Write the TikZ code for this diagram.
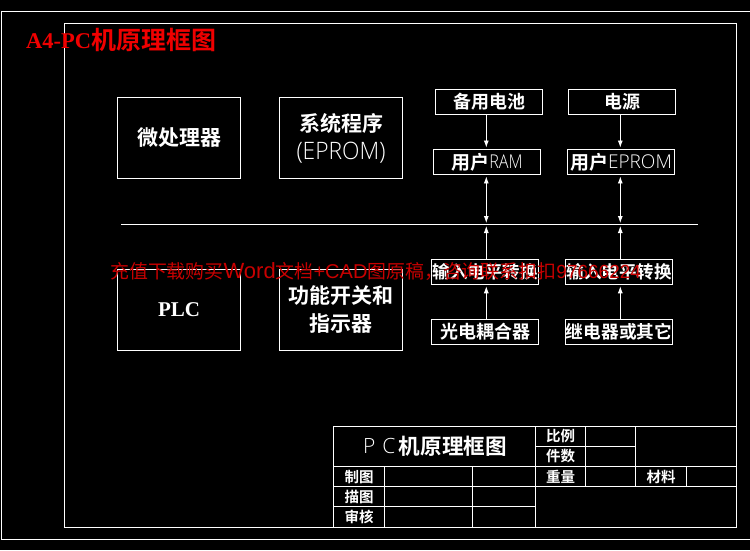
\documentclass[tikz,border=0pt]{standalone}
\usepackage{fontspec}
\usetikzlibrary{arrows.meta}
\setmainfont{Liberation Sans}
\newfontfamily\cjb{Noto Sans CJK SC}[BoldFont={* Bold}]
\newfontfamily\lthin{Open Sans Light}
\newfontfamily\ser{Liberation Serif}
\newcommand{\cn}[1]{\raisebox{-0.8pt}{\cjb\bfseries #1}}
\newcommand{\thn}[2]{\scalebox{#2}[1]{\lthin #1}}
\definecolor{wm}{RGB}{200,0,0}
\definecolor{tr}{RGB}{240,0,0}
\tikzset{
 frame/.style={draw=white,line width=0.9pt},
 bigbox/.style={frame,minimum width=123pt,minimum height=81pt,inner sep=0pt,align=center,text=white},
 smallbox/.style={frame,minimum width=107.5pt,minimum height=25pt,inner sep=0pt,align=center,text=white},
 cell/.style={text=white,inner sep=0pt,font=\fontsize{14.5}{15}\selectfont},
 conn/.style={draw=white,line width=0.8pt},
 tipa/.tip={Latex[length=7pt,width=5pt]},
 head/.style={-tipa,shorten >=1.5pt},
 bothhead/.style={tipa-tipa,shorten >=1.5pt,shorten <=1.5pt},
 bus/.style={draw=white,line width=0.8pt}
}
\begin{document}
\begin{tikzpicture}[x=1pt,y=-1pt]
\useasboundingbox (0,0) rectangle (750,550);
\fill[black] (0,0) rectangle (750,550);
% frames
\draw[frame] (750,11.5) -- (1.5,11.5) -- (1.5,539.5) -- (750,539.5);
\draw[frame] (64.5,23.5) rectangle (736.7,527);
% coordinates
\coordinate (cl) at (486.3,224.5);
\coordinate (cr) at (620.3,224.5);
\coordinate (busL) at (121,224.5);
\coordinate (busR) at (698,224.5);
% large boxes
\node[bigbox,font=\fontsize{21}{28}\selectfont] (mpu) at (179,138) {\cn{微处理器}};
\node[bigbox,font=\fontsize{21}{28}\selectfont] (sys) at (341,138) {\cn{系统程序}\\[1pt]{\fontsize{24}{28}\selectfont\thn{(EPROM)}{.95}}};
\node[bigbox,font=\fontsize{21}{28}\selectfont] (plc) at (179,309.5) {{\ser\bfseries\fontsize{21}{28}\selectfont PLC}};
\node[bigbox,font=\fontsize{21}{28}\selectfont] (fun) at (341,309.5) {\cn{功能开关和}\\\cn{指示器}};
% small boxes
\node[smallbox,font=\fontsize{18}{20}\selectfont] (bat) at (489,101.8) {\cn{备用电池}};
\node[smallbox,font=\fontsize{18}{20}\selectfont] (pwr) at (622,101.8) {\cn{电源}};
\node[smallbox,font=\fontsize{19}{20}\selectfont] (ram) at (487,162) {\cn{用户}{\fontsize{19}{20}\selectfont\thn{RAM}{.85}}};
\node[smallbox,font=\fontsize{19}{20}\selectfont] (epr) at (621,162) {\cn{用户}{\fontsize{19}{20}\selectfont\thn{EPROM}{1.0}}};
\node[smallbox,font=\fontsize{17.5}{20}\selectfont] (inl) at (485,271.8) {\cn{输入电平转换}};
\node[smallbox,font=\fontsize{17.5}{20}\selectfont] (inr) at (619,271.8) {\cn{输入电平转换}};
\node[smallbox,font=\fontsize{18}{20}\selectfont] (opt) at (485,332) {\cn{光电耦合器}};
\node[smallbox,font=\fontsize{17.7}{20}\selectfont] (rel) at (619,332) {\cn{继电器或其它}};
% bus
\draw[bus] (busL) -- (busR);
% connectors
\draw[conn,head] (bat.south -| cl) -- (ram.north -| cl);
\draw[conn,head] (pwr.south -| cr) -- (epr.north -| cr);
\draw[conn,bothhead] (ram.south -| cl) -- (cl);
\draw[conn,bothhead] (epr.south -| cr) -- (cr);
\draw[conn,head] (inl.north -| cl) -- (cl);
\draw[conn,head] (inr.north -| cr) -- (cr);
\draw[conn,head] (opt.north -| cl) -- (inl.south -| cl);
\draw[conn,head] (rel.north -| cr) -- (inr.south -| cr);
% title block
\draw[frame] (333.3,527) -- (333.3,426.3) -- (736.7,426.3);
\draw[frame] (333.3,466.3) -- (736.7,466.3);
\draw[frame] (333.3,486.3) -- (736.7,486.3);
\draw[frame] (333.3,506.5) -- (535.3,506.5);
\draw[frame] (535.3,446.3) -- (635.3,446.3);
\draw[frame] (384.3,466.3) -- (384.3,527);
\draw[frame] (472.3,466.3) -- (472.3,527);
\draw[frame] (535.3,426.3) -- (535.3,527);
\draw[frame] (585.3,426.3) -- (585.3,486.3);
\draw[frame] (635.3,426.3) -- (635.3,486.3);
\draw[frame] (686.7,466.3) -- (686.7,486.3);
\node[text=white,inner sep=0pt] (tbt) at (435,446) {{\fontsize{21}{24}\selectfont\lthin P\,\,C\,}{\fontsize{21.6}{24}\selectfont\cn{机原理框图}}};
\node[cell] (c1) at (560.5,436.3) {\cn{比例}};
\node[cell] (c2) at (560.5,456.5) {\cn{件数}};
\node[cell] (c3) at (560.5,477) {\cn{重量}};
\node[cell] (c4) at (661,477) {\cn{材料}};
\node[cell] (c5) at (359,477) {\cn{制图}};
\node[cell] (c6) at (359,497) {\cn{描图}};
\node[cell] (c7) at (359,517) {\cn{审核}};
% red texts
\node[anchor=west,text=tr,inner sep=0pt] (ttl) at (26,40) {{\ser\bfseries\fontsize{22.5}{26}\selectfont A4-PC}{\fontsize{25}{26}\selectfont\cn{机原理框图}}};
\node[anchor=west,text=wm,inner sep=0pt] (wmk) at (110,271.5) {\fontsize{18.9}{20}\selectfont\cjb 充值下载购买{\rmfamily\fontsize{22}{20}\selectfont Word}文档{\rmfamily\fontsize{20}{20}\selectfont +CAD}图原稿，咨询联系扣扣{\rmfamily\fontsize{19}{20}\selectfont 97666224}};
\end{tikzpicture}
\end{document}
